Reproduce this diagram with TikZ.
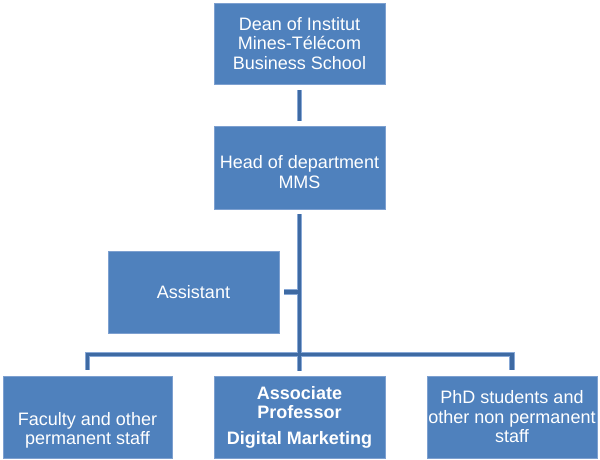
\documentclass[tikz,border=0pt]{standalone}
\usepackage{fontspec}
\setmainfont{Liberation Sans}
\usetikzlibrary{calc}
\definecolor{boxblue}{RGB}{79,129,189}
\definecolor{boxedge}{RGB}{125,160,208}
\definecolor{linedark}{RGB}{62,106,163}
\definecolor{lineedge}{RGB}{135,168,214}
\newcommand{\myconnectors}[1]{%
  \draw[#1] ($(dean.south)+(0,6)$) -- ($(head.north)+(0,-5)$);
  \draw[#1] ($(fac.north)+(0,-6)$) -- (fac.north |- busy) -- (phd.north |- busy) -- ($(phd.north)+(0,-6)$);
  \draw[#1] ($(head.south)+(0,5)$) -- ($(assoc.north)+(0,-5)$);
  \draw[#1] ($(asst.east)+(5,0)$) -- (asst.east -| head.south);
}
\begin{document}
\begin{tikzpicture}[x=1pt,y=-1pt,
  box/.style={fill=boxblue, draw=boxedge, line width=0.8pt, minimum width=171pt,
    minimum height=82pt, inner sep=0pt, text=white, align=center,
    font=\fontsize{18}{19.5}\selectfont},
  lbl/.style={text=white, align=center, font=\fontsize{18}{19.5}\selectfont},
  connlight/.style={draw=lineedge, line width=5.6pt, line join=miter, line cap=butt},
  conndark/.style={draw=linedark, line width=3.8pt, line join=miter, line cap=butt}]
\useasboundingbox (0,0) rectangle (600,460);
\node[box, minimum height=81pt] (dean) at (299.5,43.5) {Dean of Institut\\Mines-Télécom\\Business School};
\node[box, minimum height=83pt] (head) at (299.5,167.5) {};
\node[lbl] (headt) at (299.5,172) {Head of department\\MMS};
\node[box] (asst) at (193.5,292) {Assistant};
\node[box, minimum width=169pt] (fac) at (87.5,417) {};
\node[lbl] (fact) at (87.5,430.5) {Faculty and other\\permanent staff};
\node[box] (assoc) at (299.5,417) {\textbf{Associate}\\\textbf{Professor}\\[6pt]\textbf{Digital Marketing}};
\node[box, minimum width=170pt] (phd) at (512,417) {PhD students and\\other non permanent\\staff};
\coordinate (busy) at (0,354.5);
\myconnectors{connlight}
\myconnectors{conndark}
\end{tikzpicture}
\end{document}
